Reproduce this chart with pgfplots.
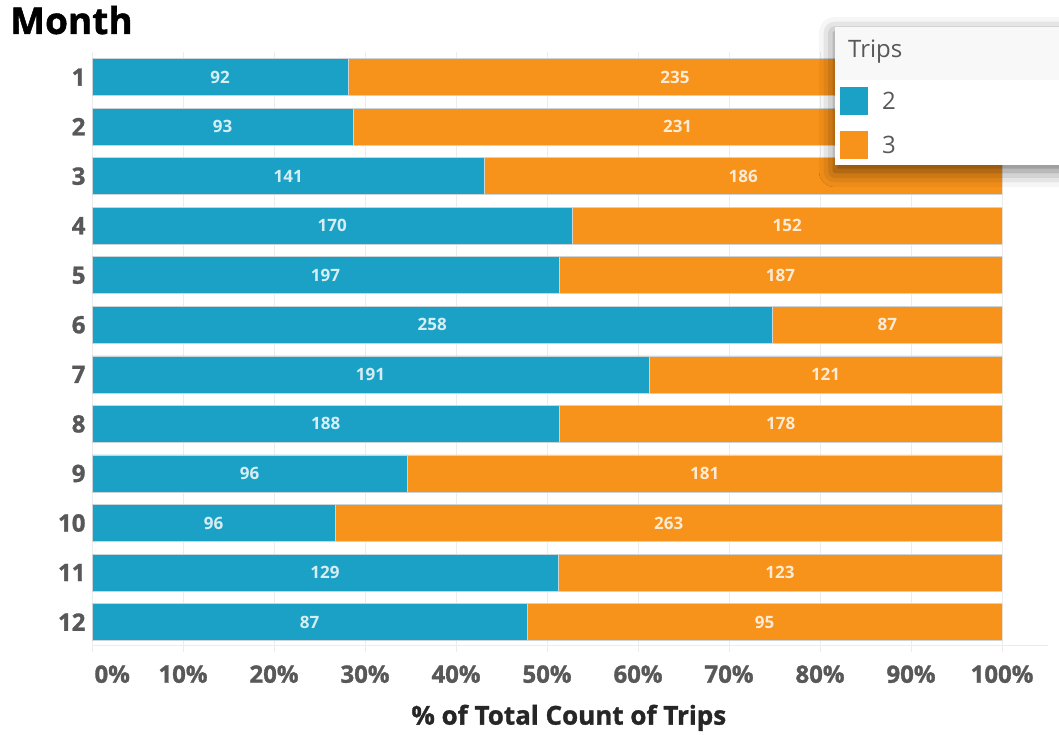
\documentclass[border=0pt]{standalone}
\usepackage{fontspec}
\setmainfont{Open Sans}
\newfontfamily\heavy{Open Sans}[BoldFeatures={FakeBold=1.2}]
\usepackage{pgfplots}
\pgfplotsset{compat=1.18}
\usepackage{pgfplotstable}
\usetikzlibrary{shadows.blur}

\definecolor{tripblue}{RGB}{27,161,197}
\definecolor{triporange}{RGB}{247,146,26}
\definecolor{ticktext}{RGB}{88,88,88}
\definecolor{gridgray}{RGB}{236,236,236}
\definecolor{headgray}{RGB}{248,248,248}
\definecolor{baredge}{RGB}{205,212,216}

% trips per month, by number of trips (2 and 3)
\pgfplotstableread{
m a b
1 92 235
2 93 231
3 141 186
4 170 152
5 197 187
6 258 87
7 191 121
8 188 178
9 96 181
10 96 263
11 129 123
12 87 95
}\trips

\pgfplotsset{
  monthaxis/.style={
    at={(92pt,82.2pt)}, anchor=south west, scale only axis,
    width=910pt, height=599.5pt,
    xmin=0, xmax=100, ymin=0.5, ymax=12.6, y dir=reverse,
    axis line style={draw=none}, major tick length=0pt,
    /pgf/number format/assume math mode=true,
  },
}

\begin{document}
\begin{tikzpicture}[x=1pt,y=1pt]
\useasboundingbox (0,0) rectangle (1059,734);

\node[anchor=base west, inner sep=0pt, font=\heavy\bfseries\fontsize{37}{37}\selectfont, text=black] at (10,700) {Month};

\begin{axis}[monthaxis,
  xbar stacked, bar width=37pt,
  xmajorgrids, grid style={gridgray, line width=1pt},
  xtick={10,20,30,40,50,60,70,80,90,100},
  xticklabels={10\%,20\%,30\%,40\%,50\%,60\%,70\%,80\%,90\%,100\%},
  extra x ticks={0}, extra x tick labels={0\%},
  extra x tick style={xticklabel style={anchor=north west, xshift=-1pt}},
  xticklabel style={font=\heavy\bfseries\fontsize{24}{24}\selectfont, text=ticktext, anchor=north, yshift=-10pt},
  ytick={1,...,12},
  yticklabel style={font=\heavy\bfseries\fontsize{24}{24}\selectfont, text=ticktext, anchor=east, xshift=-3pt},
  xlabel={\% of Total Count of Trips},
  xlabel style={font=\heavy\bfseries\fontsize{26}{26}\selectfont, text=black!85, at={(axis description cs:0.524,0)}, anchor=center, yshift=-66pt},
]
\addplot[fill=tripblue, draw=baredge, line width=0.6pt]
  table[x expr={100*\thisrow{a}/(\thisrow{a}+\thisrow{b})}, y=m]{\trips};
\addplot[fill=triporange, draw=baredge, line width=0.6pt]
  table[x expr={100*\thisrow{b}/(\thisrow{a}+\thisrow{b})}, y=m]{\trips};
\end{axis}

% baseline under the bars
\draw[gridgray, line width=1pt] (92,89) -- (1048,89);

% legend panel
\fill[white, blur shadow={shadow xshift=0pt, shadow yshift=-6pt, shadow blur radius=16pt, shadow opacity=55}] (835,569) rectangle (1090,707);
\fill[headgray] (835,654) rectangle (1059,707);
\node[anchor=base west, font=\fontsize{24}{24}\selectfont, text=ticktext, inner sep=0pt] at (848,676) {Trips};

\begin{axis}[monthaxis, hide axis,
  legend style={at={(axis cs:82.2,1.2)}, anchor=north west, draw=none, fill=none,
    font=\fontsize{24}{24}\selectfont, text=ticktext, inner sep=0pt,
    row sep=16pt, nodes={inner sep=0pt}},
  legend cell align=left,
  legend image code/.code={\fill[#1] (0pt,-14pt) rectangle (28pt,14pt);},
]
\addlegendimage{fill=tripblue, draw=none}
\addlegendentry{\hspace*{14pt}2}
\addlegendimage{fill=triporange, draw=none}
\addlegendentry{\hspace*{14pt}3}

\addplot[draw=none, mark=none, forget plot, nodes near coords, point meta=explicit,
  nodes near coords style={anchor=center, font=\bfseries\fontsize{17}{17}\selectfont, text=white, text opacity=0.82}]
  table[x expr={50*\thisrow{a}/(\thisrow{a}+\thisrow{b})}, y=m, meta=a]{\trips};
\addplot[draw=none, mark=none, forget plot, nodes near coords, point meta=explicit,
  nodes near coords style={anchor=center, font=\bfseries\fontsize{17}{17}\selectfont, text=white, text opacity=0.82}]
  table[x expr={100*\thisrow{a}/(\thisrow{a}+\thisrow{b})+50*\thisrow{b}/(\thisrow{a}+\thisrow{b})}, y=m, meta=b]{\trips};
\end{axis}
\end{tikzpicture}
\end{document}
